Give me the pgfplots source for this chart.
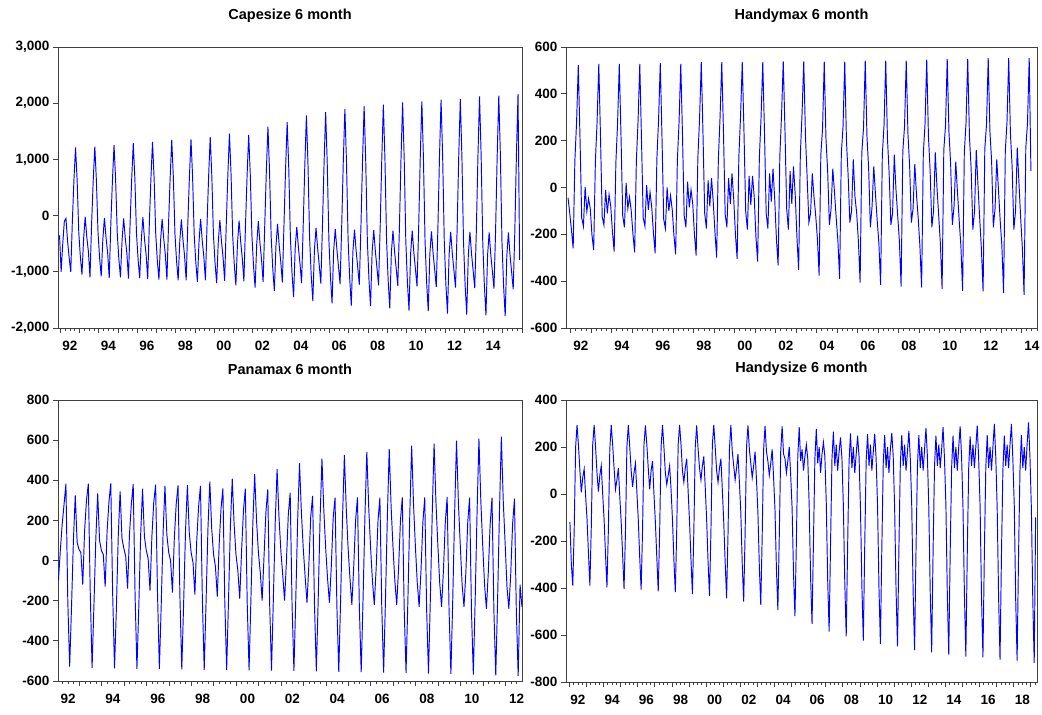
\documentclass[border=0pt]{standalone}
\usepackage{fontspec}
\setmainfont{Liberation Sans}
\usepackage{pgfplots}
\pgfplotsset{compat=1.18}

\pgfplotsset{
  panel/.style={
    anchor=south west, scale only axis,
    axis line style={draw=black!75, line width=0.9pt},
    tick align=outside, xtick pos=bottom, ytick pos=left,
    major tick length=5pt, minor tick length=3pt,
    every tick/.style={draw=black!75, line width=0.8pt},
    xticklabels={},
    extra x tick style={major tick length=0pt,
      xticklabel style={yshift=-10pt}},
    ticklabel style={font=\fontsize{13.5}{15}\selectfont\bfseries},
    title style={font=\fontsize{14.5}{16}\selectfont\bfseries, at={(0.5,1)}, anchor=center, yshift=25pt},
  },
  series/.style={blue, line width=0.95pt, mark=none},
}

\begin{document}
\begin{tikzpicture}
\fill[white] (0,0) rectangle (1042pt,715pt);
\useasboundingbox (0,0) rectangle (1042pt,715pt);

% Capesize
\begin{axis}[panel, at={(58pt,387pt)}, width=464pt, height=281pt,
  title={Capesize 6 month},
  xmin=1991.88, xmax=2016.0, ymin=-2000, ymax=3000,
  xtick={1991,...,2016},
  minor xtick={1991.25,1991.5,...,2016},
  extra x ticks={1992.5,1994.5,1996.5,1998.5,2000.5,2002.5,2004.5,2006.5,2008.5,2010.5,2012.5,2014.5},
  extra x tick labels={92,94,96,98,00,02,04,06,08,10,12,14},
  ytick={-2000,-1000,0,1000,2000,3000},
  yticklabels={{-2,000},{-1,000},0,{1,000},{2,000},{3,000}},
]
\addplot[series] table[row sep=\\, x expr={1991.96+\coordindex/12}, y=v] {
v\\
-350\\ -1000\\ -500\\ -100\\ -50\\ -450\\ -750\\ -1000\\ -100\\ 650\\
1212\\ 610\\ -300\\ -735\\ -1050\\ -420\\ -20\\ -380\\ -640\\ -1100\\ -150\\ 615\\
1229\\ 620\\ -300\\ -756\\ -1080\\ -430\\ -40\\ -390\\ -660\\ -1110\\ -140\\ 626\\
1252\\ 630\\ -310\\ -770\\ -1100\\ -440\\ -50\\ -400\\ -670\\ -1120\\ -150\\ 645\\
1287\\ 650\\ -320\\ -777\\ -1110\\ -440\\ -30\\ -420\\ -690\\ -1130\\ -160\\ 655\\
1310\\ 660\\ -320\\ -800\\ -1140\\ -460\\ -60\\ -410\\ -700\\ -1140\\ -150\\ 673\\
1346\\ 680\\ -330\\ -805\\ -1150\\ -460\\ -70\\ -430\\ -720\\ -1150\\ -160\\ 679\\
1358\\ 690\\ -340\\ -826\\ -1180\\ -470\\ -60\\ -440\\ -730\\ -1150\\ -170\\ 700\\
1399\\ 700\\ -340\\ -840\\ -1200\\ -480\\ -80\\ -450\\ -740\\ -1160\\ -160\\ 730\\
1459\\ 730\\ -350\\ -868\\ -1240\\ -500\\ -90\\ -460\\ -760\\ -1170\\ -170\\ 717\\
1434\\ 720\\ -350\\ -896\\ -1280\\ -510\\ -100\\ -480\\ -780\\ -1180\\ -180\\ 791\\
1582\\ 790\\ -360\\ -938\\ -1340\\ -540\\ -150\\ -520\\ -820\\ -1190\\ -170\\ 830\\
1663\\ 830\\ -380\\ -1015\\ -1450\\ -580\\ -200\\ -560\\ -860\\ -1200\\ -180\\ 890\\
1781\\ 890\\ -400\\ -1064\\ -1520\\ -610\\ -220\\ -580\\ -880\\ -1210\\ -190\\ 920\\
1840\\ 920\\ -410\\ -1092\\ -1560\\ -620\\ -240\\ -600\\ -900\\ -1220\\ -200\\ 950\\
1899\\ 950\\ -420\\ -1120\\ -1600\\ -640\\ -250\\ -620\\ -920\\ -1230\\ -210\\ 973\\
1946\\ 970\\ -430\\ -1127\\ -1610\\ -640\\ -260\\ -630\\ -930\\ -1240\\ -220\\ 988\\
1975\\ 990\\ -440\\ -1155\\ -1650\\ -660\\ -270\\ -640\\ -940\\ -1250\\ -230\\ 1008\\
2016\\ 1010\\ -450\\ -1183\\ -1690\\ -680\\ -270\\ -650\\ -950\\ -1260\\ -240\\ 1017\\
2034\\ 1020\\ -450\\ -1190\\ -1700\\ -680\\ -280\\ -660\\ -960\\ -1270\\ -250\\ 1032\\
2063\\ 1030\\ -460\\ -1220\\ -1745\\ -700\\ -290\\ -670\\ -970\\ -1280\\ -260\\ 1038\\
2075\\ 1040\\ -470\\ -1232\\ -1760\\ -700\\ -290\\ -680\\ -980\\ -1290\\ -270\\ 1061\\
2122\\ 1060\\ -470\\ -1243\\ -1775\\ -710\\ -300\\ -690\\ -990\\ -1300\\ -280\\ 1067\\
2134\\ 1070\\ -480\\ -1253\\ -1790\\ -720\\ -300\\ -700\\ -1000\\ -1310\\ -290\\ 1080\\
2163\\ -790\\
};
\end{axis}

% Handymax
\begin{axis}[panel, at={(566pt,387pt)}, width=471pt, height=281pt,
  title={Handymax 6 month},
  xmin=1991.77, xmax=2014.75, ymin=-600, ymax=600,
  xtick={1991,...,2015},
  minor xtick={1991.25,1991.5,...,2015},
  extra x ticks={1992.5,1994.5,1996.5,1998.5,2000.5,2002.5,2004.5,2006.5,2008.5,2010.5,2012.5,2014.5},
  extra x tick labels={92,94,96,98,00,02,04,06,08,10,12,14},
  ytick={-600,-400,-200,0,200,400,600},
  yticklabels={-600,-400,-200,0,200,400,600},
]
\addplot[series] table[row sep=\\, x expr={1991.87+\coordindex/12}, y=v] {
v\\
-44\\ -110\\ -182\\ -260\\ 116\\ 280\\
523\\ 210\\ -130\\ -166\\ 3\\ -102\\ -47\\ -90\\ -203\\ -267\\ 110\\ 280\\
528\\ 215\\ -125\\ -160\\ -10\\ -110\\ -30\\ -80\\ -190\\ -274\\ 105\\ 275\\
528\\ 220\\ -120\\ -170\\ 20\\ -90\\ -40\\ -100\\ -200\\ -277\\ 115\\ 285\\
528\\ 205\\ -130\\ -165\\ 10\\ -95\\ -20\\ -85\\ -195\\ -281\\ 120\\ 290\\
531\\ 215\\ -135\\ -175\\ 0\\ -100\\ -35\\ -95\\ -205\\ -285\\ 115\\ 280\\
528\\ 225\\ -120\\ -170\\ 25\\ -85\\ -10\\ -70\\ -200\\ -291\\ 125\\ 295\\
535\\ 230\\ -110\\ -175\\ 30\\ -80\\ 40\\ -60\\ -190\\ -299\\ 120\\ 300\\
535\\ 235\\ -115\\ -170\\ 40\\ -70\\ 60\\ -50\\ -200\\ -305\\ 130\\ 305\\
535\\ 240\\ -100\\ -180\\ 50\\ -75\\ 50\\ -40\\ -210\\ -316\\ 125\\ 300\\
535\\ 240\\ -110\\ -175\\ 60\\ -60\\ 80\\ -50\\ -220\\ -333\\ 135\\ 310\\
539\\ 245\\ -90\\ -180\\ 70\\ -70\\ 90\\ -30\\ -210\\ -352\\ 140\\ 315\\
539\\ 220\\ 40\\ -150\\ -110\\ 60\\ -40\\ -120\\ -220\\ -376\\ 140\\ 250\\
538\\ 210\\ 70\\ -160\\ -90\\ 80\\ -20\\ -130\\ -230\\ -390\\ 145\\ 260\\
538\\ 200\\ 50\\ -150\\ -100\\ 120\\ -40\\ -110\\ -230\\ -406\\ 150\\ 255\\
542\\ 220\\ 80\\ -170\\ -80\\ 90\\ -30\\ -140\\ -240\\ -416\\ 140\\ 265\\
542\\ 210\\ 60\\ -160\\ -110\\ 140\\ -10\\ -120\\ -230\\ -423\\ 155\\ 260\\
542\\ 230\\ 90\\ -150\\ -90\\ 100\\ -30\\ -130\\ -250\\ -427\\ 145\\ 270\\
546\\ 220\\ 70\\ -170\\ -100\\ 150\\ 0\\ -120\\ -240\\ -433\\ 160\\ 265\\
549\\ 240\\ 100\\ -160\\ -80\\ 110\\ -20\\ -140\\ -250\\ -441\\ 150\\ 275\\
549\\ 220\\ 80\\ -180\\ -100\\ 160\\ 10\\ -130\\ -260\\ -444\\ 165\\ 270\\
552\\ 240\\ 110\\ -170\\ -90\\ 120\\ -10\\ -140\\ -250\\ -451\\ 155\\ 280\\
552\\ 230\\ 90\\ -180\\ -100\\ 170\\ 20\\ -130\\ -260\\ -458\\ 170\\ 275\\
552\\ 70\\
};
\end{axis}

% Panamax
\begin{axis}[panel, at={(58pt,34pt)}, width=464pt, height=281pt,
  title={Panamax 6 month},
  xmin=1992.05, xmax=2012.74, ymin=-600, ymax=800,
  xtick={1992,...,2013},
  minor xtick={1992.25,1992.5,...,2013},
  extra x ticks={1992.5,1994.5,1996.5,1998.5,2000.5,2002.5,2004.5,2006.5,2008.5,2010.5,2012.5},
  extra x tick labels={92,94,96,98,00,02,04,06,08,10,12},
  ytick={-600,-400,-200,0,200,400,600,800},
  yticklabels={-600,-400,-200,0,200,400,600,800},
]
\addplot[series] table[row sep=\\, x expr={1992.07+\coordindex/12}, y=v] {
v\\
-100\\ 50\\ 180\\ 280\\ 383\\ -200\\
-528\\ -230\\ 100\\ 325\\ 90\\ 55\\ 40\\ -120\\ 150\\ 300\\ 383\\ -150\\
-535\\ -220\\ 110\\ 335\\ 100\\ 50\\ 30\\ -130\\ 140\\ 290\\ 385\\ -160\\
-537\\ -240\\ 120\\ 345\\ 110\\ 60\\ 20\\ -140\\ 130\\ 280\\ 382\\ -170\\
-540\\ -230\\ 130\\ 358\\ 120\\ 50\\ 10\\ -150\\ 120\\ 290\\ 378\\ -160\\
-540\\ -220\\ 140\\ 372\\ 130\\ 40\\ 0\\ -160\\ 110\\ 280\\ 375\\ -180\\
-542\\ -210\\ 150\\ 376\\ 140\\ 40\\ -10\\ -170\\ 100\\ 270\\ 372\\ -190\\
-545\\ -200\\ 160\\ 393\\ 160\\ 30\\ -30\\ -180\\ 80\\ 260\\ 360\\ -200\\
-545\\ -200\\ 170\\ 408\\ 180\\ 30\\ -50\\ -190\\ 50\\ 250\\ 358\\ -210\\
-547\\ -190\\ 180\\ 430\\ 200\\ 40\\ -60\\ -200\\ 20\\ 240\\ 355\\ -210\\
-548\\ -190\\ 190\\ 455\\ 220\\ 50\\ -70\\ -200\\ 0\\ 230\\ 338\\ -220\\
-550\\ -190\\ 200\\ 485\\ 240\\ 60\\ -80\\ -210\\ -20\\ 220\\ 322\\ -220\\
-552\\ -190\\ 210\\ 508\\ 250\\ 60\\ -90\\ -210\\ -30\\ 210\\ 313\\ -230\\
-555\\ -190\\ 210\\ 525\\ 260\\ 60\\ -90\\ -220\\ -30\\ 200\\ 315\\ -230\\
-556\\ -190\\ 220\\ 542\\ 270\\ 70\\ -100\\ -220\\ -40\\ 200\\ 313\\ -230\\
-558\\ -190\\ 220\\ 555\\ 270\\ 70\\ -100\\ -220\\ -40\\ 200\\ 315\\ -240\\
-560\\ -190\\ 230\\ 572\\ 280\\ 70\\ -110\\ -230\\ -50\\ 190\\ 315\\ -240\\
-563\\ -190\\ 230\\ 583\\ 290\\ 80\\ -110\\ -230\\ -50\\ 190\\ 317\\ -240\\
-565\\ -190\\ 240\\ 597\\ 290\\ 80\\ -120\\ -230\\ -60\\ 190\\ 313\\ -250\\
-568\\ -190\\ 240\\ 608\\ 300\\ 80\\ -120\\ -240\\ -60\\ 180\\ 313\\ -250\\
-572\\ -190\\ 250\\ 618\\ 300\\ 90\\ -130\\ -240\\ -70\\ 180\\ 308\\ -250\\
-575\\ -120\\ -230\\
};
\end{axis}

% Handysize
\begin{axis}[panel, at={(566pt,33pt)}, width=471pt, height=282pt,
  title={Handysize 6 month},
  xmin=1991.80, xmax=2019.36, ymin=-800, ymax=400,
  xtick={1991,...,2020},
  minor xtick={1991.25,1991.5,...,2020},
  extra x ticks={1992.5,1994.5,1996.5,1998.5,2000.5,2002.5,2004.5,2006.5,2008.5,2010.5,2012.5,2014.5,2016.5,2018.5},
  extra x tick labels={92,94,96,98,00,02,04,06,08,10,12,14,16,18},
  ytick={-800,-600,-400,-200,0,200,400},
  yticklabels={-800,-600,-400,-200,0,200,400},
]
\addplot[series] table[row sep=\\, x expr={1992.03+\coordindex/12}, y=v] {
v\\
-120\\ -300\\
-390\\ -150\\ 200\\ 294\\ 206\\ 100\\ 7\\ 71\\ 106\\ -7\\ -106\\ -250\\
-390\\ -140\\ 210\\ 294\\ 200\\ 90\\ 10\\ 80\\ 120\\ 0\\ -110\\ -260\\
-397\\ -150\\ 190\\ 294\\ 210\\ 110\\ 20\\ 60\\ 110\\ -10\\ -120\\ -260\\
-404\\ -160\\ 200\\ 294\\ 200\\ 100\\ 30\\ 90\\ 130\\ 10\\ -110\\ -270\\
-407\\ -150\\ 210\\ 292\\ 210\\ 110\\ 20\\ 100\\ 140\\ 0\\ -120\\ -270\\
-414\\ -160\\ 200\\ 294\\ 200\\ 90\\ 40\\ 80\\ 120\\ 20\\ -110\\ -280\\
-418\\ -150\\ 210\\ 294\\ 210\\ 100\\ 50\\ 110\\ 150\\ 10\\ -120\\ -280\\
-426\\ -160\\ 200\\ 292\\ 190\\ 110\\ 60\\ 120\\ 160\\ 30\\ -110\\ -290\\
-433\\ -160\\ 210\\ 294\\ 200\\ 100\\ 50\\ 110\\ 150\\ 20\\ -120\\ -290\\
-444\\ -170\\ 190\\ 294\\ 180\\ 120\\ 60\\ 110\\ 170\\ 50\\ -80\\ -300\\
-458\\ -170\\ 200\\ 292\\ 190\\ 130\\ 70\\ 120\\ 180\\ 60\\ -80\\ -310\\
-472\\ -180\\ 190\\ 290\\ 180\\ 140\\ 80\\ 130\\ 190\\ 70\\ -70\\ -320\\
-494\\ -180\\ 180\\ 288\\ 170\\ 150\\ 90\\ 140\\ 200\\ 80\\ -60\\ -340\\
-520\\ -200\\ 160\\ 284\\ 140\\ 190\\ 100\\ 160\\ 210\\ 150\\ -50\\ -360\\
-553\\ -200\\ 150\\ 277\\ 130\\ 200\\ 90\\ 170\\ 220\\ 160\\ -40\\ -370\\
-586\\ -210\\ 150\\ 265\\ 120\\ 210\\ 100\\ 180\\ 241\\ 150\\ -50\\ -380\\
-606\\ -220\\ 140\\ 258\\ 110\\ 200\\ 90\\ 170\\ 248\\ 160\\ -60\\ -390\\
-624\\ -220\\ 140\\ 255\\ 120\\ 210\\ 100\\ 180\\ 256\\ 150\\ -50\\ -400\\
-638\\ -230\\ 130\\ 252\\ 110\\ 200\\ 90\\ 190\\ 260\\ 160\\ -60\\ -410\\
-648\\ -230\\ 130\\ 250\\ 120\\ 210\\ 100\\ 180\\ 269\\ 150\\ -50\\ -420\\
-664\\ -240\\ 120\\ 250\\ 110\\ 200\\ 100\\ 190\\ 280\\ 160\\ -60\\ -420\\
-674\\ -240\\ 120\\ 248\\ 120\\ 210\\ 110\\ 190\\ 284\\ 150\\ -50\\ -430\\
-684\\ -250\\ 110\\ 248\\ 110\\ 200\\ 100\\ 200\\ 288\\ 160\\ -60\\ -430\\
-692\\ -250\\ 110\\ 245\\ 120\\ 210\\ 110\\ 200\\ 291\\ 150\\ -50\\ -440\\
-695\\ -250\\ 110\\ 250\\ 110\\ 200\\ 100\\ 200\\ 298\\ 160\\ -60\\ -440\\
-705\\ -260\\ 100\\ 248\\ 120\\ 210\\ 110\\ 210\\ 298\\ 150\\ -50\\ -450\\
-709\\ -260\\ 100\\ 250\\ 110\\ 200\\ 100\\ 210\\ 305\\ 160\\ -60\\ -450\\
-719\\ -100\\
};
\end{axis}
\end{tikzpicture}
\end{document}
